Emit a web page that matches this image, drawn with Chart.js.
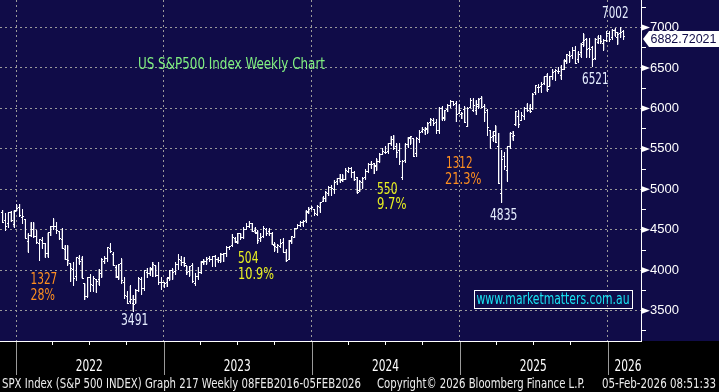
<!DOCTYPE html>
<html>
<head>
<meta charset="utf-8">
<script src="https://cdn.jsdelivr.net/npm/chart.js@4.4.1/dist/chart.umd.min.js"></script>
<style>
  html, body { margin: 0; padding: 0; background: #000; }
</style>
</head>
<body>
<canvas id="spxChart" width="719" height="392"></canvas>
<script>
// SPX weekly bars, first bar = week ending 26 Nov 2021
const firstWeek = '2021-11-26';

const opens = [
  // 2021
  4712, 4619, 4572, 4710, 4571, 4734,
  // 2022
  4778, 4655, 4632, 4356, 4431, 4505, 4413, 4332, 4364, 4327, 4202, 4462, 4541,
  4547, 4474, 4385, 4255, 4130, 4081, 4013, 3920, 4149, 4134, 3838, 3674, 3913,
  3815, 3880, 3883, 3965, 4113, 4142, 4269, 4195, 4034, 3910, 4084, 3855, 3682,
  3610, 3594, 3638, 3754, 3881, 3780, 3977, 3956, 4005, 4053, 3940, 3845, 3843,
  // 2023
  3853, 3911, 3999, 3979, 4071, 4120, 4100, 4053, 3982, 4055, 3834, 3917, 3975,
  4102, 4110, 4140, 4132, 4166, 4136, 4126, 4190, 4206, 4282, 4308, 4396, 4354,
  4450, 4405, 4505, 4543, 4584, 4492, 4459, 4389, 4415, 4510, 4474, 4453, 4310,
  4284, 4289, 4342, 4224, 4139, 4364, 4406, 4511, 4554, 4590, 4611, 4726, 4758,
  // 2024
  4745, 4690, 4781, 4856, 4888, 4950, 5027, 5004, 5093, 5131, 5111, 5123, 5219,
  5257, 5204, 5150, 4987, 5084, 5142, 5225, 5305, 5315, 5298, 5341, 5432, 5459,
  5471, 5572, 5615, 5525, 5474, 5151, 5358, 5557, 5636, 5623, 5442, 5615, 5712,
  5726, 5736, 5832, 5857, 5826, 5724, 6005, 5893, 5992, 6040, 6083, 6063, 5942,
  // 2025
  5920, 5982, 5780, 6015, 5969, 5970, 6046, 6121, 6026, 5969, 5723, 5658, 5718,
  5527, 4953, 5411, 5233, 5529, 5655, 5807, 5902, 5854, 5897, 6005, 6004, 5999,
  6193, 6260, 6266, 6304, 6395, 6272, 6389, 6458, 6457, 6401, 6481, 6594, 6653,
  6660, 6720, 6609, 6686, 6820, 6850, 6745, 6750, 6620, 6812, 6862, 6806, 6836,
  // 2026
  6924, 6878, 6960, 6880, 6930, 6950
];
const highs = [
  4744, 4705, 4713, 4731, 4740, 4808,
  4819, 4749, 4632, 4453, 4595, 4590, 4490, 4385, 4402, 4330, 4465, 4546, 4637,
  4593, 4474, 4513, 4308, 4307, 4081, 4090, 4158, 4177, 4168, 3838, 3913, 3946,
  3919, 3880, 4013, 4141, 4167, 4280, 4325, 4218, 4062, 4076, 4140, 3907, 3736,
  3806, 3690, 3763, 3905, 3912, 4001, 4028, 4034, 4101, 4060, 4101, 3906, 3846,
  3906, 4003, 4016, 4095, 4195, 4176, 4160, 4053, 4048, 4078, 3962, 4039, 4110,
  4133, 4164, 4170, 4170, 4187, 4158, 4213, 4212, 4290, 4299, 4448, 4401, 4458,
  4456, 4527, 4578, 4607, 4584, 4527, 4490, 4458, 4541, 4514, 4511, 4465, 4338,
  4324, 4385, 4394, 4256, 4374, 4415, 4521, 4560, 4599, 4609, 4738, 4778, 4793,
  4754, 4802, 4842, 4907, 4975, 5030, 5048, 5111, 5140, 5189, 5179, 5262, 5265,
  5264, 5220, 5150, 5114, 5146, 5240, 5325, 5342, 5315, 5376, 5447, 5505, 5524,
  5570, 5655, 5670, 5566, 5566, 5358, 5563, 5643, 5651, 5623, 5636, 5733, 5767,
  5765, 5822, 5878, 5870, 5862, 6013, 6018, 5973, 6045, 6099, 6086, 6085, 6049,
  5950, 6022, 6007, 6128, 6120, 6101, 6128, 6147, 6044, 5986, 5723, 5715, 5787,
  5695, 5482, 5459, 5528, 5700, 5720, 5959, 5969, 5944, 6016, 6059, 6050, 6187,
  6284, 6290, 6316, 6395, 6427, 6395, 6481, 6478, 6509, 6532, 6600, 6672, 6699,
  6750, 6764, 6700, 6808, 6920, 6862, 6870, 6766, 6870, 6896, 6901, 6850, 6945,
  6945, 6980, 6986, 6940, 7002, 6960
];
const lows = [
  4585, 4495, 4532, 4600, 4531, 4734,
  4662, 4582, 4395, 4222, 4414, 4402, 4327, 4115, 4270, 4157, 4161, 4424, 4506,
  4450, 4381, 4267, 4129, 4062, 3859, 3810, 3876, 4074, 3900, 3636, 3669, 3738,
  3742, 3721, 3818, 3911, 4080, 4112, 4218, 4057, 3906, 3886, 3838, 3647, 3584,
  3591, 3491, 3590, 3735, 3698, 3750, 3906, 3938, 3918, 3923, 3827, 3764, 3783,
  3794, 3877, 3885, 3949, 4012, 4060, 4047, 3944, 3928, 3847, 3809, 3888, 3958,
  4069, 4073, 4114, 4049, 4048, 4099, 4099, 4103, 4166, 4261, 4299, 4341, 4329,
  4385, 4389, 4498, 4528, 4474, 4460, 4336, 4356, 4404, 4430, 4432, 4316, 4238,
  4216, 4283, 4222, 4104, 4127, 4329, 4403, 4511, 4537, 4546, 4594, 4699, 4751,
  4682, 4682, 4714, 4844, 4845, 4918, 4920, 4953, 5057, 5084, 5091, 5117, 5203,
  5146, 5107, 4953, 4970, 5011, 5127, 5211, 5257, 5191, 5234, 5331, 5428, 5447,
  5448, 5546, 5497, 5391, 5306, 5120, 5331, 5521, 5560, 5403, 5402, 5584, 5698,
  5674, 5696, 5784, 5789, 5696, 5696, 5853, 5853, 5957, 6010, 6031, 5833, 5932,
  5870, 5825, 5773, 6014, 5962, 5923, 6004, 6008, 5837, 5667, 5505, 5597, 5573,
  5069, 4835, 5244, 5101, 5506, 5603, 5786, 5768, 5853, 5862, 5964, 5952, 5984,
  6172, 6201, 6201, 6290, 6212, 6271, 6360, 6343, 6427, 6360, 6482, 6555, 6570,
  6611, 6550, 6570, 6635, 6768, 6632, 6631, 6521, 6600, 6798, 6800, 6720, 6830,
  6824, 6858, 6895, 6790, 6872, 6850
];
const closes = [
  4595, 4538, 4712, 4621, 4726, 4766,
  4677, 4663, 4398, 4432, 4501, 4419, 4349, 4385, 4329, 4204, 4463, 4543, 4546,
  4488, 4392, 4272, 4132, 4123, 4024, 3901, 4158, 4109, 3901, 3675, 3912, 3825,
  3899, 3863, 3962, 4130, 4145, 4280, 4228, 4058, 3924, 4067, 3873, 3693, 3586,
  3640, 3583, 3752, 3901, 3771, 3993, 3965, 4026, 4072, 3934, 3852, 3845, 3840,
  3895, 3999, 3973, 4071, 4136, 4090, 4079, 3970, 4046, 3862, 3917, 3971, 4109,
  4105, 4138, 4133, 4169, 4136, 4124, 4192, 4205, 4282, 4299, 4410, 4348, 4450,
  4399, 4505, 4536, 4582, 4478, 4464, 4370, 4406, 4516, 4457, 4450, 4320, 4288,
  4309, 4327, 4224, 4117, 4358, 4415, 4514, 4559, 4595, 4604, 4719, 4755, 4770,
  4697, 4784, 4840, 4891, 4959, 5027, 5006, 5089, 5137, 5124, 5117, 5234, 5254,
  5204, 5123, 4967, 5100, 5128, 5223, 5303, 5305, 5278, 5347, 5432, 5465, 5460,
  5567, 5615, 5505, 5459, 5346, 5344, 5554, 5634, 5648, 5408, 5626, 5703, 5738,
  5751, 5815, 5865, 5808, 5729, 5995, 5871, 5969, 6032, 6090, 6051, 5931, 5971,
  5942, 5827, 5997, 6101, 6041, 6026, 6115, 6013, 5955, 5770, 5639, 5668, 5581,
  5074, 5363, 5283, 5525, 5686, 5660, 5958, 5803, 5912, 6000, 5977, 5968, 6173,
  6279, 6260, 6297, 6389, 6238, 6389, 6450, 6467, 6460, 6482, 6584, 6664, 6644,
  6716, 6553, 6664, 6792, 6840, 6728, 6734, 6603, 6849, 6870, 6827, 6835, 6930,
  6858, 6966, 6940, 6916, 6939, 6883
];
const lastPrice = 6882.72021;

// axis ticks (x in days from 1 Jan 2022)
const yearStarts = [0, 365, 730, 1096, 1461];
const quarterDays = [90, 181, 273, 455, 546, 638, 821, 912, 1004, 1186, 1277, 1369];
const yearLabelDays = [181, 546, 912, 1277, 1511];
const yearLabels = ['2022', '2023', '2024', '2025', '2026'];
const priceTicks = [3250, 3500, 3750, 4000, 4250, 4500, 4750, 5000, 5250, 5500,
                    5750, 6000, 6250, 6500, 6750, 7000, 7250];

const NAVY = '#100c48';
const GRID = '#9a9a9a';
const NARROW = "'Liberation Sans Narrow', 'DejaVu Sans Condensed', sans-serif";
const ARIAL = "'Liberation Sans', Arial, sans-serif";

const DAY0 = Date.UTC(2022, 0, 1);
const startDay = (Date.parse(firstWeek + 'T00:00:00Z') - DAY0) / 86400000;
const barData = closes.map((c, i) => ({ x: startDay + 7 * i + 3, y: [lows[i], highs[i]] }));

const xTickValues = yearStarts.concat(quarterDays).sort((a, b) => a - b);

// draw text squeezed to a given width (Bloomberg fonts are narrow)
function fitText(ctx, t, x, y, w) {
  const m = ctx.measureText(t).width;
  ctx.save();
  ctx.translate(x, y);
  ctx.scale(w / m, 1);
  ctx.fillText(t, 0, 0);
  ctx.restore();
}

const bloomberg = {
  id: 'bloomberg',
  beforeDraw(chart) {
    const { ctx, width, height, chartArea } = chart;
    ctx.save();
    ctx.fillStyle = '#000';
    ctx.fillRect(0, 0, width, height);
    ctx.fillStyle = NAVY;
    ctx.fillRect(0, 0, width, chartArea.bottom);
    ctx.restore();
  },
  afterDatasetsDraw(chart) {
    // sharpen the high-low lines and add open / close ticks
    const { ctx } = chart;
    const ys = chart.scales.y;
    const meta = chart.getDatasetMeta(0);
    ctx.save();
    ctx.fillStyle = '#ffffff';
    meta.data.forEach((bar, i) => {
      const col = Math.floor(bar.x);
      const top = Math.floor(ys.getPixelForValue(highs[i]));
      const bot = Math.floor(ys.getPixelForValue(lows[i]));
      ctx.fillRect(col, top, 1, bot - top + 1);
      ctx.fillRect(col - 1, Math.floor(ys.getPixelForValue(opens[i])), 1, 1);
      ctx.fillRect(col + 1, Math.floor(ys.getPixelForValue(closes[i])), 1, 1);
    });
    ctx.restore();
  },
  afterDraw(chart) {
    const { ctx, chartArea } = chart;
    const xs = chart.scales.x, ys = chart.scales.y;
    ctx.save();

    // long year separators below the axis
    ctx.strokeStyle = GRID;
    ctx.lineWidth = 1;
    yearStarts.forEach(d => {
      const x = Math.round(xs.getPixelForValue(d)) + 0.5;
      ctx.beginPath();
      ctx.moveTo(x, chartArea.bottom + 1);
      ctx.lineTo(x, 375);
      ctx.stroke();
    });

    // year labels
    ctx.fillStyle = '#ffffff';
    ctx.font = '15px ' + NARROW;
    ctx.textBaseline = 'middle';
    ctx.textAlign = 'left';
    yearLabelDays.forEach((d, k) => {
      const cx = xs.getPixelForValue(d);
      fitText(ctx, yearLabels[k], cx - 13.5, 367, 27);
    });

    // triangles on major price ticks
    priceTicks.filter(v => v % 500 === 0).forEach(v => {
      const y = ys.getPixelForValue(v);
      ctx.beginPath();
      ctx.moveTo(chartArea.right + 1, y - 3);
      ctx.lineTo(chartArea.right + 9, y);
      ctx.lineTo(chartArea.right + 1, y + 3);
      ctx.closePath();
      ctx.fill();
    });

    // last price tag
    const py = ys.getPixelForValue(lastPrice) + 2;
    ctx.beginPath();
    ctx.moveTo(chartArea.right + 2, py);
    ctx.lineTo(chartArea.right + 8, py - 8);
    ctx.lineTo(719, py - 8);
    ctx.lineTo(719, py + 8);
    ctx.lineTo(chartArea.right + 8, py + 8);
    ctx.closePath();
    ctx.fill();
    ctx.fillStyle = NAVY;
    ctx.font = '13px ' + ARIAL;
    fitText(ctx, lastPrice.toFixed(5), chartArea.right + 9.5, py, 66);

    // callouts
    const WHITE = '#e6eeff', ORANGE = '#ff8f1f', YELLOW = '#e8f020';
    const notes = [
      ['7002', 602, 14, 26.5, WHITE], ['6521', 582, 80, 26.5, WHITE],
      ['1312', 446, 164.5, 26.5, ORANGE], ['21.3%', 445, 180.5, 36.5, ORANGE],
      ['550', 377, 190, 20.5, YELLOW], ['9.7%', 377, 205.5, 29.5, YELLOW],
      ['4835', 490, 216, 27.3, WHITE],
      ['504', 238, 259.5, 20.5, YELLOW], ['10.9%', 238, 275.5, 36, YELLOW],
      ['1327', 30.5, 280.5, 26.8, ORANGE], ['28%', 30.5, 296, 24.5, ORANGE],
      ['3491', 121, 321.5, 27.3, WHITE]
    ];
    ctx.font = '15px ' + NARROW;
    notes.forEach(([t, x, y, w, c]) => {
      ctx.fillStyle = c;
      fitText(ctx, t, x, y, w);
    });

    ctx.fillStyle = '#80f080';
    fitText(ctx, 'US S&P500 Index Weekly Chart', 138, 65, 187);

    // website box
    ctx.strokeStyle = '#ffffff';
    ctx.strokeRect(474.5, 290.5, 158, 18);
    ctx.fillStyle = '#18e2f2';
    fitText(ctx, 'www.marketmatters.com.au', 476.5, 300, 153);

    // footer
    ctx.fillStyle = '#ececec';
    ctx.font = '14px ' + NARROW;
    ctx.textBaseline = 'alphabetic';
    fitText(ctx, 'SPX Index (S&P 500 INDEX) Graph 217 Weekly 08FEB2016-05FEB2026', 2, 387.5, 359);
    fitText(ctx, 'Copyright\u00a9 2026 Bloomberg Finance L.P.', 377, 387.5, 208);
    fitText(ctx, '05-Feb-2026 08:51:33', 602, 387.5, 114);

    ctx.restore();
  }
};

new Chart(document.getElementById('spxChart'), {
  type: 'bar',
  data: {
    datasets: [{
      label: 'SPX',
      data: barData,
      backgroundColor: '#ffffff',
      borderWidth: 0,
      barThickness: 1,
      inflateAmount: 0
    }]
  },
  options: {
    responsive: false,
    animation: false,
    devicePixelRatio: 1,
    layout: { padding: 0 },
    plugins: { legend: { display: false }, tooltip: { enabled: false } },
    scales: {
      x: {
        type: 'linear',
        min: -39.6,
        max: 1543,
        offset: false,
        afterBuildTicks: s => { s.ticks = xTickValues.map(v => ({ value: v })); },
        afterFit: s => { s.height = 51; s.paddingLeft = 0; s.paddingRight = 0; },
        grid: {
          offset: false,
          color: c => yearStarts.includes(c.tick.value) ? GRID : 'transparent',
          tickLength: 4,
          tickColor: c => quarterDays.includes(c.tick.value) ? '#ffffff' : 'transparent'
        },
        border: { color: '#ffffff', width: 1, dash: [2, 3] },
        ticks: { display: false, autoSkip: false, maxRotation: 0 }
      },
      y: {
        position: 'right',
        min: 3126,
        max: 7340,
        beginAtZero: false,
        afterBuildTicks: s => { s.ticks = priceTicks.map(v => ({ value: v })); },
        afterFit: s => { s.width = 78; s.paddingTop = 0; s.paddingBottom = 0; },
        grid: {
          color: c => c.tick.value % 500 === 0 ? GRID : 'transparent',
          tickLength: 5,
          tickColor: '#ffffff'
        },
        border: { color: '#ffffff', width: 1, dash: [2, 3] },
        ticks: {
          color: '#ffffff',
          padding: 4,
          font: { family: ARIAL, size: 13 },
          callback: v => v % 500 === 0 ? String(v) : ''
        }
      }
    }
  },
  plugins: [bloomberg]
});
</script>
</body>
</html>
